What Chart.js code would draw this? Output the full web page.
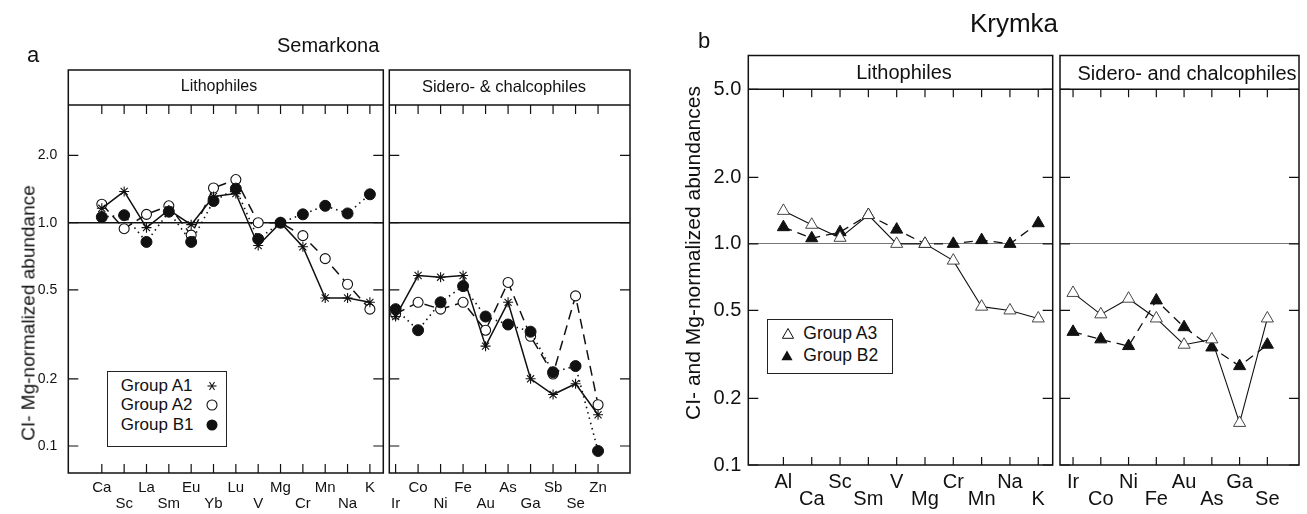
<!DOCTYPE html>
<html><head><meta charset="utf-8">
<script src="https://cdn.jsdelivr.net/npm/chart.js@4/dist/chart.umd.min.js"></script>
<style>
html,body{margin:0;padding:0;background:#fff;}
#wrap{position:relative;width:1307px;height:514px;overflow:hidden;font-family:"Liberation Sans",Arial,sans-serif;color:#111;}
canvas{position:absolute;left:0;top:0;}
.t{position:absolute;white-space:nowrap;line-height:1;}
.c{transform:translateX(-50%);}
.r{transform:translate(-50%,-50%) rotate(-90deg);}
.box{position:absolute;border:1.5px solid #222;background:#fff;box-sizing:border-box;}
svg{position:absolute;overflow:visible;}
</style></head><body>
<div id="wrap">
<canvas id="aL" width="1307" height="514"></canvas>
<canvas id="aR" width="1307" height="514"></canvas>
<canvas id="bL" width="1307" height="514"></canvas>
<canvas id="bR" width="1307" height="514"></canvas>

<div class="t" style="left:27px;top:44.4px;font-size:22px;">a</div>
<div class="t" style="left:277px;top:35.4px;font-size:20px;">Semarkona</div>
<div class="t c" style="left:219px;top:78.2px;font-size:16px;">Lithophiles</div>
<div class="t c" style="left:504px;top:78.3px;font-size:16.5px;">Sidero- &amp; chalcophiles</div>
<div class="t r" style="left:27.5px;top:312.5px;font-size:19px;">CI- Mg-normalized abundance</div>

<div class="t" style="left:698px;top:29.7px;font-size:22px;">b</div>
<div class="t c" style="left:1014px;top:9.7px;font-size:26px;">Krymka</div>
<div class="t c" style="left:904px;top:62.1px;font-size:20px;">Lithophiles</div>
<div class="t c" style="left:1187px;top:63px;font-size:20px;">Sidero- and chalcophiles</div>
<div class="t r" style="left:692px;top:252.5px;font-size:21px;">CI- and Mg-normalized abundances</div>

<div class="box" style="left:107px;top:370.7px;width:120px;height:76px;"></div>
<div class="t" style="left:120.7px;top:377.3px;font-size:17px;">Group A1</div>
<div class="t" style="left:120.7px;top:396.3px;font-size:17px;">Group A2</div>
<div class="t" style="left:120.7px;top:415.6px;font-size:17px;">Group B1</div>
<svg style="left:211.7px;top:386px;" width="1" height="1"><g stroke="#111" stroke-width="1.1"><line x1="-4.5" y1="0" x2="4.5" y2="0"/><line x1="-2.5" y1="-4" x2="2.5" y2="4"/><line x1="-2.5" y1="4" x2="2.5" y2="-4"/></g></svg>
<svg style="left:211.7px;top:405px;" width="1" height="1"><circle cx="0" cy="0" r="5" fill="#fff" stroke="#111" stroke-width="1.1"/></svg>
<svg style="left:211.7px;top:424.5px;" width="1" height="1"><circle cx="0" cy="0" r="5.5" fill="#111"/></svg>

<div class="box" style="left:766.7px;top:319.3px;width:126.6px;height:54.7px;"></div>
<div class="t" style="left:803.3px;top:325.2px;font-size:17.5px;">Group A3</div>
<div class="t" style="left:803.3px;top:346.9px;font-size:17.5px;">Group B2</div>
<svg style="left:788.3px;top:335px;" width="1" height="1"><polygon points="0,-6.5 5.6,3.3 -5.6,3.3" fill="#fff" stroke="#111" stroke-width="1"/></svg>
<svg style="left:787px;top:356.5px;" width="1" height="1"><polygon points="0,-6.5 5.6,3.3 -5.6,3.3" fill="#111"/></svg>
</div>
<script>
// ---------- data ----------
const litA = ['Ca','Sc','La','Sm','Eu','Yb','Lu','V','Mg','Cr','Mn','Na','K'];
const sidA = ['Ir','Co','Ni','Fe','Au','As','Ga','Sb','Se','Zn'];
const litB = ['Al','Ca','Sc','Sm','V','Mg','Cr','Mn','Na','K'];
const sidB = ['Ir','Co','Ni','Fe','Au','As','Ga','Se'];
const yTicksA = [0.1, 0.2, 0.5, 1.0, 2.0];
const yTicksB = [0.1, 0.2, 0.5, 1.0, 2.0, 5.0];

// Semarkona (a)
const a1Lit = [1.16, 1.38, 0.95, 1.14, 0.98, 1.31, 1.35, 0.79, 1.0, 0.78, 0.46, 0.46, 0.44];
const a2Lit = [1.21, 0.94, 1.09, 1.19, 0.88, 1.43, 1.56, 1.0, 1.0, 0.875, 0.69, 0.53, 0.41];
const b1Lit = [1.06, 1.08, 0.82, 1.12, 0.82, 1.25, 1.42, 0.845, 1.0, 1.09, 1.19, 1.10, 1.34];
const a1Sid = [0.38, 0.58, 0.57, 0.58, 0.28, 0.44, 0.20, 0.17, 0.19, 0.138];
const a2Sid = [0.39, 0.44, 0.41, 0.44, 0.33, 0.54, 0.31, 0.21, 0.47, 0.153];
const b1Sid = [0.41, 0.33, 0.44, 0.52, 0.38, 0.35, 0.325, 0.214, 0.228, 0.095];

// Krymka (b)
const a3Lit = [1.41, 1.22, 1.065, 1.35, 1.0, 1.0, 0.84, 0.52, 0.50, 0.46];
const b2Lit = [1.19, 1.06, 1.13, 1.35, 1.16, 1.0, 1.0, 1.04, 1.0, 1.24];
const a3Sid = [0.60, 0.48, 0.565, 0.46, 0.35, 0.37, 0.155, 0.46];
const b2Sid = [0.40, 0.37, 0.345, 0.555, 0.42, 0.34, 0.28, 0.35];

// ---------- drawing ----------
const W = 1307, H = 514, INK = '#111';
const pts = arr => arr.map((v, i) => ({x: i, y: v}));

const framePlugin = {
  id: 'panelFrame',
  afterDatasetsDraw(chart, args, o) {
    const {ctx, chartArea: ca, scales} = chart;
    const x = scales.x, y = scales.y;
    ctx.save();
    ctx.strokeStyle = INK;
    ctx.lineWidth = o.frameWidth;
    ctx.strokeRect(ca.left, o.headerTop, ca.right - ca.left, ca.bottom - o.headerTop);
    ctx.beginPath(); ctx.moveTo(ca.left, ca.top); ctx.lineTo(ca.right, ca.top); ctx.stroke();
    ctx.lineWidth = o.tickWidth;
    ctx.beginPath();
    y.ticks.forEach(t => {
      const py = y.getPixelForValue(t.value);
      ctx.moveTo(ca.left, py); ctx.lineTo(ca.left + o.yTickLen, py);
      ctx.moveTo(ca.right, py); ctx.lineTo(ca.right - o.yTickLen, py);
    });
    x.ticks.forEach(t => {
      const px = x.getPixelForValue(t.value);
      ctx.moveTo(px, ca.top); ctx.lineTo(px, ca.top + o.xTickLen);
      ctx.moveTo(px, ca.bottom); ctx.lineTo(px, ca.bottom - o.xTickLen);
    });
    ctx.stroke();
    ctx.restore();
  }
};

function panel(id, o) {
  return new Chart(document.getElementById(id), {
    type: 'line',
    data: {datasets: o.datasets},
    plugins: [framePlugin],
    options: {
      responsive: false, animation: false, events: [],
      layout: {padding: {left: o.left - o.yw, top: o.top, right: W - o.right, bottom: 0}},
      plugins: {
        legend: {display: false}, tooltip: {enabled: false},
        panelFrame: {headerTop: o.headerTop, frameWidth: 1.5, tickWidth: 1.2, yTickLen: 10, xTickLen: o.xTickLen}
      },
      scales: {
        x: {
          type: 'linear', min: o.xmin, max: o.xmax,
          afterBuildTicks: s => { s.ticks = o.cats.map((c, i) => ({value: i})); },
          afterFit: s => { s.height = H - o.bottom; s.paddingLeft = 0; s.paddingRight = 0; },
          grid: {display: false, drawTicks: false}, border: {display: false},
          ticks: {
            autoSkip: false, maxRotation: 0, minRotation: 0, padding: o.xpad, color: INK,
            font: {family: '"Liberation Sans", Arial, sans-serif', size: o.xfs, lineHeight: o.xlh},
            callback: v => { const n = o.cats[v]; return (v % 2 === o.stagger) ? ['', n] : n; }
          }
        },
        y: {
          type: 'logarithmic', min: o.ymin, max: o.ymax,
          afterBuildTicks: s => { s.ticks = o.yt.map(v => ({value: v})); },
          afterFit: s => { s.width = o.yw; s.paddingTop = 0; s.paddingBottom = 0; },
          grid: {drawTicks: false, color: c => (c.tick && c.tick.value === 1) ? o.oneColor : 'rgba(0,0,0,0)', lineWidth: o.oneWidth},
          border: {display: false},
          ticks: {
            display: o.showY, padding: o.ypad, color: INK,
            font: {family: '"Liberation Sans", Arial, sans-serif', size: o.yfs},
            callback: v => Number(v).toFixed(1)
          }
        }
      }
    }
  });
}

function setA(a1, a2, b1) {
  return [
    {data: pts(a1), borderColor: INK, borderWidth: 1.5, pointStyle: 'star', pointRadius: 5, pointBorderColor: INK, pointBorderWidth: 1.1, pointBackgroundColor: INK, tension: 0, order: 1},
    {data: pts(b1), borderColor: INK, borderWidth: 1.6, borderDash: [1.5, 4], pointStyle: 'circle', pointRadius: 5.5, pointBorderColor: INK, pointBackgroundColor: INK, pointBorderWidth: 1, tension: 0, order: 2},
    {data: pts(a2), borderColor: INK, borderWidth: 1.5, borderDash: [10, 6], pointStyle: 'circle', pointRadius: 5, pointBorderColor: INK, pointBackgroundColor: '#fff', pointBorderWidth: 1.1, tension: 0, order: 3}
  ];
}
function setB(a3, b2) {
  return [
    {data: pts(a3), borderColor: INK, borderWidth: 1.1, pointStyle: 'triangle', pointRadius: 7, pointBorderColor: '#333', pointBackgroundColor: '#fff', pointBorderWidth: 0.9, tension: 0, order: 1},
    {data: pts(b2), borderColor: INK, borderWidth: 1.3, borderDash: [9, 6], pointStyle: 'triangle', pointRadius: 7, pointBorderColor: INK, pointBackgroundColor: INK, pointBorderWidth: 1, tension: 0, order: 2}
  ];
}

const commonA = {top: 105, bottom: 473, headerTop: 70, ymin: 0.0757, ymax: 3.365, yt: yTicksA,
  xfs: 15, xlh: 1.07, xpad: 6.5, yfs: 14, ypad: 11, oneColor: '#111', oneWidth: 1.5, xTickLen: 9};
const commonB = {top: 89.3, bottom: 465, headerTop: 55.5, ymin: 0.1, ymax: 5.0, yt: yTicksB,
  xfs: 20, xlh: 0.85, xpad: 8.5, yfs: 20, ypad: 7, oneColor: '#777', oneWidth: 1, xTickLen: 8};

panel('aL', Object.assign({}, commonA, {left: 68.3, right: 383.3, yw: 68.3, showY: true, cats: litA, xmin: -1.5, xmax: 12.6, stagger: 1,
  datasets: setA(a1Lit, a2Lit, b1Lit)}));
panel('aR', Object.assign({}, commonA, {left: 389.3, right: 630, yw: 20, showY: false, cats: sidA, xmin: -0.28, xmax: 10.42, stagger: 0,
  datasets: setA(a1Sid, a2Sid, b1Sid)}));
panel('bL', Object.assign({}, commonB, {left: 748.3, right: 1052.7, yw: 60, showY: true, cats: litB, xmin: -1.24, xmax: 9.51, stagger: 1,
  datasets: setB(a3Lit, b2Lit)}));
panel('bR', Object.assign({}, commonB, {left: 1060, right: 1305, yw: 20, showY: false, cats: sidB, xmin: -0.47, xmax: 8.14, stagger: 1,
  datasets: setB(a3Sid, b2Sid)}));
</script>
</body></html>
